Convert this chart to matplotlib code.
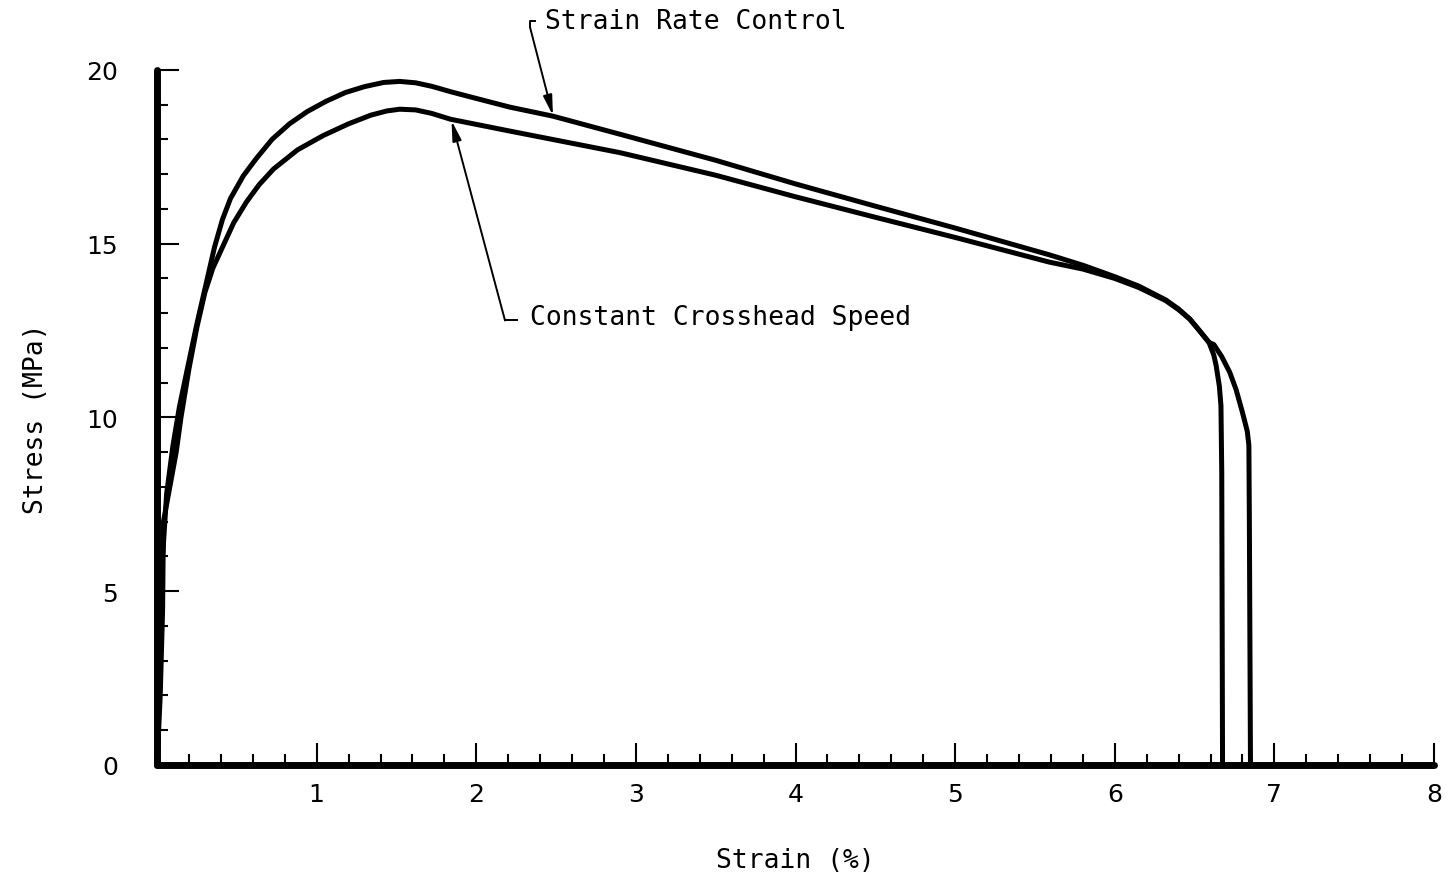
"""Stress-strain curves: strain rate control vs constant crosshead speed."""

import matplotlib

matplotlib.use("Agg")
import matplotlib.pyplot as plt
from matplotlib.ticker import MultipleLocator

# strain (%) / stress (MPa)
srate_strain = [0.0, 0.01, 0.02, 0.035, 0.06, 0.10, 0.14, 0.19, 0.25, 0.30,
                0.36, 0.41, 0.46, 0.54, 0.62, 0.72, 0.83, 0.94, 1.06, 1.18,
                1.30, 1.42, 1.52, 1.62, 1.72, 1.85, 2.00, 2.21, 2.48, 2.90,
                3.50, 4.00, 4.50, 5.00, 5.59, 5.80, 6.00, 6.15, 6.32, 6.40,
                6.47, 6.53, 6.59, 6.62, 6.67, 6.72, 6.76, 6.80, 6.83, 6.84,
                6.843, 6.846, 6.85]
srate_stress = [0.0, 2.0, 4.0, 6.0, 7.8, 9.2, 10.3, 11.4, 12.7, 13.7,
                14.9, 15.7, 16.3, 16.95, 17.44, 18.0, 18.45, 18.8, 19.1, 19.35,
                19.52, 19.64, 19.67, 19.63, 19.53, 19.36, 19.18, 18.93, 18.67, 18.15,
                17.4, 16.72, 16.08, 15.45, 14.68, 14.38, 14.05, 13.78, 13.38, 13.12,
                12.83, 12.5, 12.16, 12.1, 11.75, 11.3, 10.8, 10.14, 9.6, 9.2,
                7.0, 4.0, 0.0]

crosshead_strain = [0.0, 0.02, 0.035, 0.04, 0.08, 0.12, 0.15, 0.20, 0.25, 0.30,
                    0.35, 0.40, 0.48, 0.56, 0.64, 0.73, 0.88, 1.04, 1.20, 1.34,
                    1.44, 1.52, 1.62, 1.72, 1.84, 2.20, 2.90, 3.50, 4.00, 4.50,
                    5.00, 5.59, 5.80, 6.00, 6.15, 6.32, 6.40, 6.47, 6.53, 6.59,
                    6.62, 6.635, 6.655, 6.665, 6.67, 6.675]
crosshead_stress = [0.0, 2.0, 4.5, 7.0, 8.0, 9.0, 10.0, 11.4, 12.6, 13.6,
                    14.3, 14.8, 15.6, 16.2, 16.7, 17.15, 17.7, 18.11, 18.45, 18.7,
                    18.82, 18.87, 18.85, 18.75, 18.58, 18.25, 17.62, 16.97, 16.35, 15.76,
                    15.18, 14.47, 14.27, 14.0, 13.74, 13.36, 13.1, 12.83, 12.5, 12.16,
                    11.8, 11.49, 10.9, 10.34, 8.43, 0.0]

x_ticks = [1, 2, 3, 4, 5, 6, 7, 8]
y_ticks = [0, 5, 10, 15, 20]

MONO = "DejaVu Sans Mono"

fig = plt.figure(figsize=(14.5, 8.78), dpi=100)
ax = fig.add_axes([0.1083, 0.1276, 0.8807, 0.7916])

for xs, ys in [(srate_strain, srate_stress), (crosshead_strain, crosshead_stress)]:
    ax.plot(xs, ys, color="black", lw=3.6, solid_capstyle="butt",
            solid_joinstyle="round", clip_on=False)

ax.set_xlim(0, 8)
ax.set_ylim(0, 20)

for side in ("top", "right"):
    ax.spines[side].set_visible(False)
for side in ("left", "bottom"):
    ax.spines[side].set_linewidth(5)
    ax.spines[side].set_capstyle("round")

ax.xaxis.set_minor_locator(MultipleLocator(0.2))
ax.yaxis.set_minor_locator(MultipleLocator(1))
ax.set_xticks(x_ticks)
ax.set_yticks(y_ticks)
ax.tick_params(which="major", direction="in", length=16, width=1.5,
               labelsize=18, color="black")
ax.tick_params(which="minor", direction="in", length=8, width=1.5, color="black")
ax.tick_params(axis="x", which="major", pad=12)
ax.tick_params(axis="y", which="major", pad=28)
for lbl in ax.get_xticklabels() + ax.get_yticklabels():
    lbl.set_fontfamily("DejaVu Sans")

ax.set_xlabel("Strain (%)", fontfamily=MONO, fontsize=19, labelpad=30)
ax.set_ylabel("Stress (MPa)", fontfamily=MONO, fontsize=19, labelpad=27)

arrow_kw = dict(arrowstyle="-|>,head_length=1.2,head_width=0.27",
                color="black", lw=1.4, shrinkA=0, shrinkB=0)

# Strain Rate Control label with bracket and arrow
ax.annotate("", xy=(2.48, 18.69), xytext=(2.336, 21.24),
            arrowprops=arrow_kw, annotation_clip=False)
ax.plot([2.336, 2.336, 2.37], [21.24, 21.42, 21.42], color="black", lw=1.4,
        clip_on=False)
ax.text(2.43, 21.42, "Strain Rate Control", fontfamily=MONO, fontsize=19,
        ha="left", va="center")

# Constant Crosshead Speed label with bracket and arrow
ax.annotate("", xy=(1.845, 18.54), xytext=(2.18, 12.79),
            arrowprops=arrow_kw, annotation_clip=False)
ax.plot([2.18, 2.255], [12.79, 12.79], color="black", lw=1.4)
ax.text(2.335, 12.89, "Constant Crosshead Speed", fontfamily=MONO, fontsize=19,
        ha="left", va="center")

fig.savefig("out.png", dpi=100)
